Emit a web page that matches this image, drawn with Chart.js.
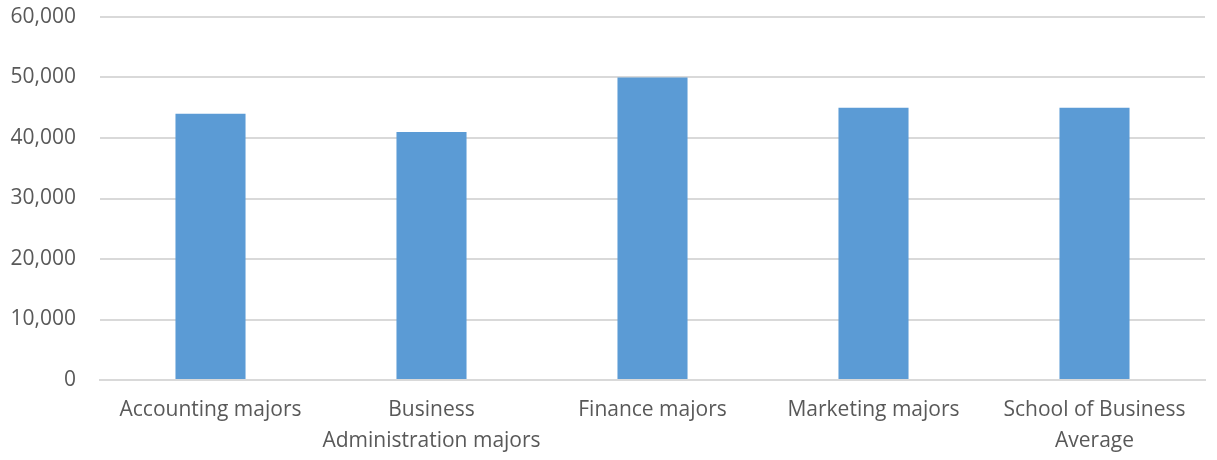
<!DOCTYPE html>
<html>
<head>
<meta charset="utf-8">
<script src="https://cdn.jsdelivr.net/npm/chart.js@4"></script>
<style>
  html, body { margin: 0; padding: 0; background: #fff; }
  #grafico { width: 1217px; height: 460px; }
</style>
</head>
<body>
<div id="grafico"><canvas id="ctx"></canvas></div>
<script>
// salarios iniciais medios por curso
const cursos = [
  "Accounting majors",
  ["Business", "Administration majors"],
  "Finance majors",
  "Marketing majors",
  ["School of Business", "Average"]
]
const salarios = [44000, 41000, 50000, 45000, 45000]
const ticksY = [0, 10000, 20000, 30000, 40000, 50000, 60000]

const corTexto = "#595959"
const familia = "'Open Sans', sans-serif"

new Chart(document.getElementById("ctx"), {
  type: "bar",
  data: {
    labels: cursos,
    datasets: [{
      data: salarios,
      backgroundColor: "#5b9bd5",
      borderWidth: 0,
      barPercentage: 0.317,
      categoryPercentage: 1
    }]
  },
  options: {
    responsive: true,
    maintainAspectRatio: false,
    animation: false,
    layout: { padding: { top: 17, right: 12, left: 0, bottom: 0 } },
    plugins: { legend: { display: false }, tooltip: { enabled: false } },
    scales: {
      x: {
        grid: { display: false, drawTicks: false },
        border: { color: "#d9d9d9", width: 2 },
        afterFit: axis => { axis.height = 80; axis.paddingTop = 0 },
        ticks: {
          color: corTexto, font: { family: familia, size: 21, lineHeight: 1.45 }, padding: 15,
          maxRotation: 0, minRotation: 0, autoSkip: false
        }
      },
      y: {
        min: 0,
        max: 60000,
        afterBuildTicks: axis => { axis.ticks = ticksY.map(v => ({ value: v })) },
        afterFit: axis => { axis.width = 100; axis.paddingTop = 0 },
        grid: { color: "#d9d9d9", lineWidth: 2, drawTicks: false },
        border: { display: false },
        ticks: {
          color: corTexto, font: { family: familia, size: 21, lineHeight: 1 }, padding: 24,
          callback: v => v.toLocaleString("en-US")
        }
      }
    }
  }
})
</script>
</body>
</html>
